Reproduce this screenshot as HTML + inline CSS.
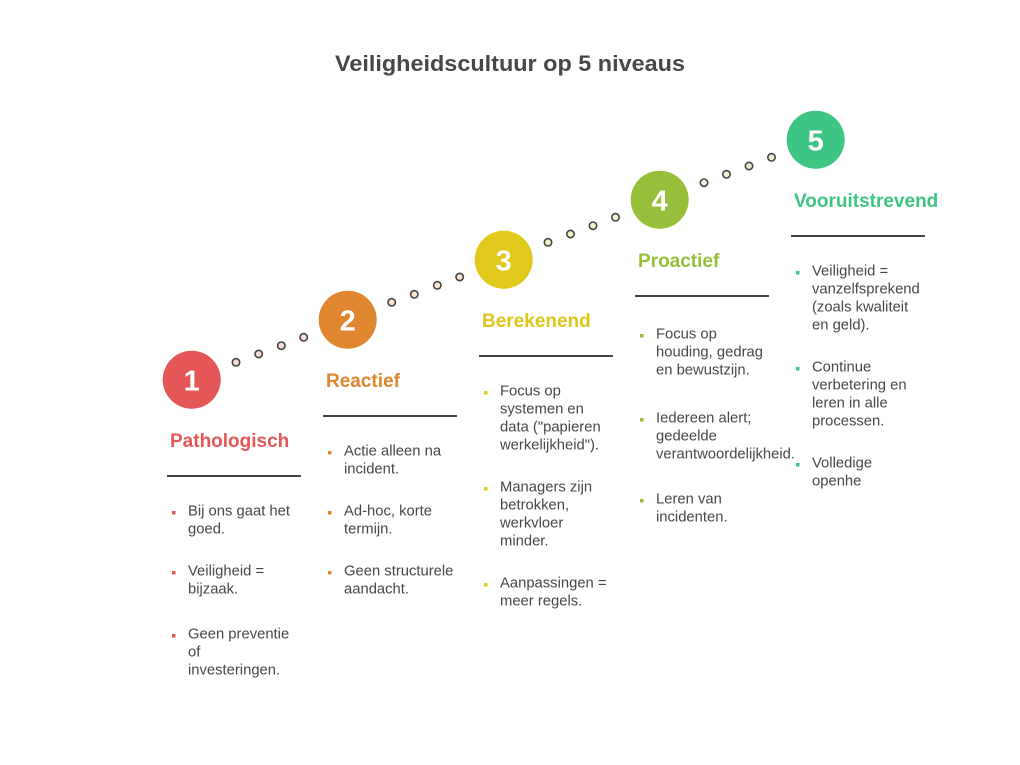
<!DOCTYPE html>
<html>
<head>
<meta charset="utf-8">
<style>
  html, body { margin: 0; padding: 0; background: #ffffff; }
  body { width: 1020px; height: 765px; overflow: hidden; }
  svg { display: block; }
  .t { font-family: "Liberation Sans", sans-serif; font-size: 14.8px; fill: #474747; }
  .h { font-family: "Liberation Sans", sans-serif; font-size: 19px; font-weight: bold; }
  .n { font-family: "Liberation Sans", sans-serif; font-size: 29px; font-weight: bold; fill: #ffffff; }
</style>
</head>
<body>
<svg width="1020" height="765" viewBox="0 0 1020 765" xmlns="http://www.w3.org/2000/svg">
  <rect width="1020" height="765" fill="#ffffff"/>

  <!-- Title -->
  <text x="335" y="71" textLength="350" lengthAdjust="spacingAndGlyphs" font-family="Liberation Sans, sans-serif" font-size="22" font-weight="bold" fill="#474747">Veiligheidscultuur op 5 niveaus</text>

  <!-- Dots -->
  <g stroke="#444444" stroke-width="1.6">
    <g fill="#f9dcd6">
      <circle cx="236" cy="362.3" r="3.7"/>
      <circle cx="258.7" cy="354" r="3.7"/>
      <circle cx="281.3" cy="345.7" r="3.7"/>
      <circle cx="303.7" cy="337.3" r="3.7"/>
    </g>
    <g fill="#fde5cc">
      <circle cx="391.7" cy="302.3" r="3.7"/>
      <circle cx="414.3" cy="294.3" r="3.7"/>
      <circle cx="437.3" cy="285.3" r="3.7"/>
      <circle cx="459.7" cy="277" r="3.7"/>
    </g>
    <g fill="#f8f3c8">
      <circle cx="548" cy="242.3" r="3.7"/>
      <circle cx="570.5" cy="234" r="3.7"/>
      <circle cx="593" cy="225.7" r="3.7"/>
      <circle cx="615.5" cy="217.3" r="3.7"/>
    </g>
    <g fill="#ebf0d2">
      <circle cx="704" cy="182.7" r="3.7"/>
      <circle cx="726.5" cy="174.3" r="3.7"/>
      <circle cx="749" cy="166" r="3.7"/>
      <circle cx="771.5" cy="157.3" r="3.7"/>
    </g>
  </g>

  <!-- Circles -->
  <circle cx="191.7" cy="379.7" r="29" fill="#e55757"/>
  <text class="n" x="191.7" y="390.5" text-anchor="middle">1</text>
  <circle cx="347.7" cy="319.7" r="29" fill="#e0862f"/>
  <text class="n" x="347.7" y="330.5" text-anchor="middle">2</text>
  <circle cx="503.7" cy="259.7" r="29" fill="#e0c91a"/>
  <text class="n" x="503.7" y="270.5" text-anchor="middle">3</text>
  <circle cx="659.7" cy="199.7" r="29" fill="#97bf3a"/>
  <text class="n" x="659.7" y="210.5" text-anchor="middle">4</text>
  <circle cx="815.7" cy="139.7" r="29" fill="#3ec583"/>
  <text class="n" x="815.7" y="150.5" text-anchor="middle">5</text>

  <!-- Headings -->
  <text class="h" x="170" y="447" fill="#e55757">Pathologisch</text>
  <text class="h" x="326" y="387" fill="#e0862f">Reactief</text>
  <text class="h" x="482" y="327" fill="#dcc61a">Berekenend</text>
  <text class="h" x="638" y="267" fill="#97bf3a">Proactief</text>
  <text class="h" x="794" y="207" fill="#3ec583">Vooruitstrevend</text>

  <!-- Lines -->
  <g stroke="#444444" stroke-width="2">
    <line x1="167" y1="476" x2="301" y2="476"/>
    <line x1="323" y1="416" x2="457" y2="416"/>
    <line x1="479" y1="356" x2="613" y2="356"/>
    <line x1="635" y1="296" x2="769" y2="296"/>
    <line x1="791" y1="236" x2="925" y2="236"/>
  </g>

  <!-- Column 1 -->
  <g fill="#e55757">
    <rect x="172" y="511" width="3.5" height="3.5"/>
    <rect x="172" y="571" width="3.5" height="3.5"/>
    <rect x="172" y="634" width="3.5" height="3.5"/>
  </g>
  <text class="t" x="188" y="515.5">Bij ons gaat het</text>
  <text class="t" x="188" y="533.5">goed.</text>
  <text class="t" x="188" y="575.5">Veiligheid =</text>
  <text class="t" x="188" y="593.5">bijzaak.</text>
  <text class="t" x="188" y="638.5">Geen preventie</text>
  <text class="t" x="188" y="656.5">of</text>
  <text class="t" x="188" y="674.5">investeringen.</text>

  <!-- Column 2 -->
  <g fill="#e0862f">
    <rect x="328" y="451" width="3.5" height="3.5"/>
    <rect x="328" y="511" width="3.5" height="3.5"/>
    <rect x="328" y="571" width="3.5" height="3.5"/>
  </g>
  <text class="t" x="344" y="455.5">Actie alleen na</text>
  <text class="t" x="344" y="473.5">incident.</text>
  <text class="t" x="344" y="515.5">Ad-hoc, korte</text>
  <text class="t" x="344" y="533.5">termijn.</text>
  <text class="t" x="344" y="575.5">Geen structurele</text>
  <text class="t" x="344" y="593.5">aandacht.</text>

  <!-- Column 3 -->
  <g fill="#e0c91a">
    <rect x="484" y="391" width="3.5" height="3.5"/>
    <rect x="484" y="487" width="3.5" height="3.5"/>
    <rect x="484" y="583" width="3.5" height="3.5"/>
  </g>
  <text class="t" x="500" y="395.5">Focus op</text>
  <text class="t" x="500" y="413.5">systemen en</text>
  <text class="t" x="500" y="431.5">data ("papieren</text>
  <text class="t" x="500" y="449.5">werkelijkheid").</text>
  <text class="t" x="500" y="491.5">Managers zijn</text>
  <text class="t" x="500" y="509.5">betrokken,</text>
  <text class="t" x="500" y="527.5">werkvloer</text>
  <text class="t" x="500" y="545.5">minder.</text>
  <text class="t" x="500" y="587.5">Aanpassingen =</text>
  <text class="t" x="500" y="605.5">meer regels.</text>

  <!-- Column 4 -->
  <g fill="#97bf3a">
    <rect x="640" y="334" width="3.5" height="3.5"/>
    <rect x="640" y="418" width="3.5" height="3.5"/>
    <rect x="640" y="499" width="3.5" height="3.5"/>
  </g>
  <text class="t" x="656" y="338.5">Focus op</text>
  <text class="t" x="656" y="356.5">houding, gedrag</text>
  <text class="t" x="656" y="374.5">en bewustzijn.</text>
  <text class="t" x="656" y="422.5">Iedereen alert;</text>
  <text class="t" x="656" y="440.5">gedeelde</text>
  <text class="t" x="656" y="458.5">verantwoordelijkheid.</text>
  <text class="t" x="656" y="503.5">Leren van</text>
  <text class="t" x="656" y="521.5">incidenten.</text>

  <!-- Column 5 -->
  <g fill="#3ec583">
    <rect x="796" y="271" width="3.5" height="3.5"/>
    <rect x="796" y="367" width="3.5" height="3.5"/>
    <rect x="796" y="463" width="3.5" height="3.5"/>
  </g>
  <text class="t" x="812" y="275.5">Veiligheid =</text>
  <text class="t" x="812" y="293.5">vanzelfsprekend</text>
  <text class="t" x="812" y="311.5">(zoals kwaliteit</text>
  <text class="t" x="812" y="329.5">en geld).</text>
  <text class="t" x="812" y="371.5">Continue</text>
  <text class="t" x="812" y="389.5">verbetering en</text>
  <text class="t" x="812" y="407.5">leren in alle</text>
  <text class="t" x="812" y="425.5">processen.</text>
  <text class="t" x="812" y="467.5">Volledige</text>
  <text class="t" x="812" y="485.5">openhe</text>
</svg>
</body>
</html>
